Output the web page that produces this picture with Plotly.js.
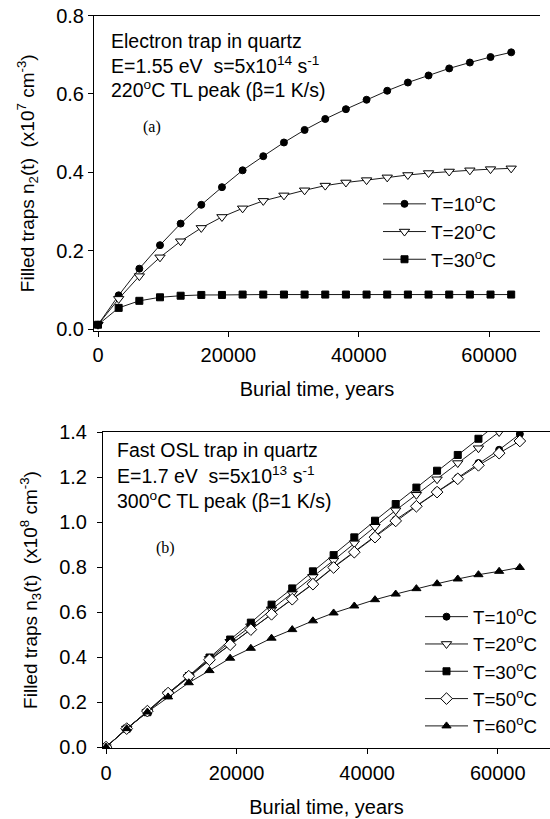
<!DOCTYPE html>
<html>
<head>
<meta charset="utf-8">
<script src="https://cdn.plot.ly/plotly-3.0.1.min.js"></script>
<style>html,body{margin:0;padding:0;background:#fff;}</style>
</head>
<body>
<div id="chart" style="width:550px;height:819px;"></div>
<script>
// Burial time (years), shared by both panels
const years = [0,3169,6338,9507,12676,15845,19014,22183,25352,28521,31690,34859,38028,41197,44366,47535,50704,53873,57042,60211,63380];

// Panel (a): filled traps n2(t) (x10^7 cm^-3)
const a_T10 = [0.011,0.086,0.154,0.214,0.269,0.317,0.362,0.405,0.441,0.476,0.508,0.536,0.561,0.585,0.608,0.629,0.647,0.665,0.680,0.694,0.706];
const a_T20 = [0.011,0.077,0.135,0.183,0.224,0.258,0.286,0.308,0.327,0.341,0.354,0.366,0.374,0.380,0.387,0.393,0.398,0.402,0.405,0.408,0.410];
const a_T30 = [0.011,0.054,0.072,0.081,0.085,0.087,0.087,0.088,0.088,0.088,0.088,0.088,0.088,0.088,0.088,0.088,0.088,0.088,0.088,0.088,0.088];

// Panel (b): filled traps n3(t) (x10^8 cm^-3)
const b_T10 = [0,0.082,0.158,0.237,0.310,0.385,0.455,0.522,0.590,0.659,0.726,0.800,0.868,0.937,1.010,1.072,1.138,1.197,1.262,1.321,1.391];
const b_T20 = [0,0.082,0.157,0.236,0.312,0.392,0.468,0.537,0.612,0.683,0.757,0.830,0.906,0.979,1.052,1.121,1.190,1.262,1.328,1.400,1.470];
const b_T30 = [0,0.082,0.155,0.238,0.316,0.398,0.478,0.553,0.633,0.705,0.781,0.853,0.932,1.006,1.080,1.153,1.228,1.298,1.370,1.443,1.515];
const b_T50 = [0,0.082,0.160,0.240,0.315,0.388,0.455,0.522,0.590,0.657,0.724,0.798,0.866,0.933,1.005,1.070,1.133,1.192,1.252,1.306,1.360];
const b_T60 = [0,0.082,0.156,0.223,0.286,0.340,0.395,0.439,0.484,0.522,0.561,0.596,0.627,0.655,0.680,0.704,0.726,0.747,0.766,0.781,0.798];

const labelsA = ['T=10<sup>o</sup>C','T=20<sup>o</sup>C','T=30<sup>o</sup>C'];
const labelsB = ['T=10<sup>o</sup>C','T=20<sup>o</sup>C','T=30<sup>o</sup>C','T=50<sup>o</sup>C','T=60<sup>o</sup>C'];
const yTicksA = [0,0.2,0.4,0.6,0.8];
const yTicksB = [0,0.2,0.4,0.6,0.8,1.0,1.2,1.4];
const xTicks = [0,20000,40000,60000];

const W = 550, H = 819;
const px = v => v / W;
const py = v => 1 - v / H;
const LINE = {color:'#1a1a1a', width:1};
const FONT = 'Liberation Sans, Arial, sans-serif';

function tr(y, name, sym, size, filled, xa, ya, lg){
  return {
    x: years, y: y, name: name, type:'scatter', mode:'lines+markers',
    xaxis: xa, yaxis: ya, legend: lg,
    line: LINE,
    marker: {symbol: sym, size: size, color: filled ? '#000' : '#fff', line:{color:'#000', width:1}},
    cliponaxis: true
  };
}

const data = [
  tr(a_T10, labelsA[0], 'circle', 7, true, 'x', 'y', 'legend'),
  tr(a_T20, labelsA[1], 'triangle-down', 9, false, 'x', 'y', 'legend'),
  tr(a_T30, labelsA[2], 'square', 7, true, 'x', 'y', 'legend'),
  tr(b_T10, labelsB[0], 'circle', 7, true, 'x2', 'y2', 'legend2'),
  tr(b_T20, labelsB[1], 'triangle-down', 9, false, 'x2', 'y2', 'legend2'),
  tr(b_T30, labelsB[2], 'square', 7, true, 'x2', 'y2', 'legend2'),
  tr(b_T50, labelsB[3], 'diamond', 9, false, 'x2', 'y2', 'legend2'),
  tr(b_T60, labelsB[4], 'triangle-up', 8, true, 'x2', 'y2', 'legend2')
];

const axCommon = {
  showgrid:false, zeroline:false, showline:true, linecolor:'#000', linewidth:1,
  ticks:'outside', ticklen:5, tickwidth:1, tickcolor:'#000',
  tickfont:{family:FONT, size:20, color:'#000'}
};

const NB = '\u00A0';
const TF = {family:FONT, size:20, color:'#000'};
const AF = {family:FONT, size:19.5, color:'#000'};
const layout = {
  width: W, height: H,
  margin:{l:0,r:0,t:0,b:0},
  paper_bgcolor:'#fff', plot_bgcolor:'#fff',
  font:{family:FONT, color:'#000'},
  showlegend:true,
  xaxis: Object.assign({}, axCommon, {
    domain:[px(94), px(540)], anchor:'y', range:[-615, 67800],
    tickvals:xTicks, tickformat:'d', mirror:true, ticklabelstandoff:1,
    title:{text:'Burial time, years', font:TF, standoff:16}
  }),
  yaxis: Object.assign({}, axCommon, {
    domain:[py(331), py(15.5)], anchor:'x', range:[-0.005, 0.8],
    tickvals:yTicksA, tickformat:'.1f',
    title:{text:'Filled traps n<sub>2</sub>(t)'+NB+NB+'(x10<sup>7</sup> cm<sup>-3</sup>)', font:{family:FONT, size:19, color:'#000'}, standoff:16}
  }),
  xaxis2: Object.assign({}, axCommon, {
    domain:[px(103), 1], anchor:'y2', range:[-460, 68000],
    tickvals:xTicks, tickformat:'d', mirror:true, ticklabelstandoff:2,
    title:{text:'Burial time, years', font:TF, standoff:16}
  }),
  yaxis2: Object.assign({}, axCommon, {
    domain:[py(748), py(432)], anchor:'x2', range:[-0.004, 1.4],
    tickvals:yTicksB, tickformat:'.1f', ticklabelstandoff:6,
    title:{text:'Filled traps n<sub>3</sub>(t)'+NB+NB+'(x10<sup>8</sup> cm<sup>-3</sup>)', font:{family:FONT, size:19, color:'#000'}, standoff:16}
  }),
  legend:{
    x:px(378), xanchor:'left', y:py(185), yanchor:'top',
    bgcolor:'rgba(0,0,0,0)', borderwidth:0, itemwidth:43,
    font:{family:FONT, size:19, color:'#000'}, tracegroupgap:0
  },
  legend2:{
    x:px(420), xanchor:'left', y:py(598), yanchor:'top',
    bgcolor:'rgba(0,0,0,0)', borderwidth:0, itemwidth:43,
    font:{family:FONT, size:18.7, color:'#000'}, tracegroupgap:0
  },
  annotations:[
    {xref:'paper', yref:'paper', x:px(109), y:py(40.5), xanchor:'left', yanchor:'middle', showarrow:false,
     text:'Electron trap in quartz', font:AF},
    {xref:'paper', yref:'paper', x:px(109), y:py(65), xanchor:'left', yanchor:'middle', showarrow:false,
     text:'E=1.55 eV'+NB+NB+'s=5x10<sup>14</sup> s<sup>-1</sup>', font:AF},
    {xref:'paper', yref:'paper', x:px(109), y:py(89), xanchor:'left', yanchor:'middle', showarrow:false,
     text:'220<sup>o</sup>C TL peak (β=1 K/s)', font:AF},
    {xref:'paper', yref:'paper', x:px(151.5), y:py(127), xanchor:'center', yanchor:'middle', showarrow:false,
     text:'(a)', font:{family:'Liberation Serif, Times New Roman, serif', size:16, color:'#000'}},
    {xref:'paper', yref:'paper', x:px(115), y:py(450), xanchor:'left', yanchor:'middle', showarrow:false,
     text:'Fast OSL trap in quartz', font:AF},
    {xref:'paper', yref:'paper', x:px(115), y:py(475), xanchor:'left', yanchor:'middle', showarrow:false,
     text:'E=1.7 eV'+NB+NB+'s=5x10<sup>13</sup> s<sup>-1</sup>', font:AF},
    {xref:'paper', yref:'paper', x:px(115), y:py(500), xanchor:'left', yanchor:'middle', showarrow:false,
     text:'300<sup>o</sup>C TL peak (β=1 K/s)', font:AF},
    {xref:'paper', yref:'paper', x:px(165), y:py(548), xanchor:'center', yanchor:'middle', showarrow:false,
     text:'(b)', font:{family:'Liberation Serif, Times New Roman, serif', size:16, color:'#000'}}
  ]
};

Plotly.newPlot('chart', data, layout, {displayModeBar:false, staticPlot:true});
</script>
</body>
</html>
